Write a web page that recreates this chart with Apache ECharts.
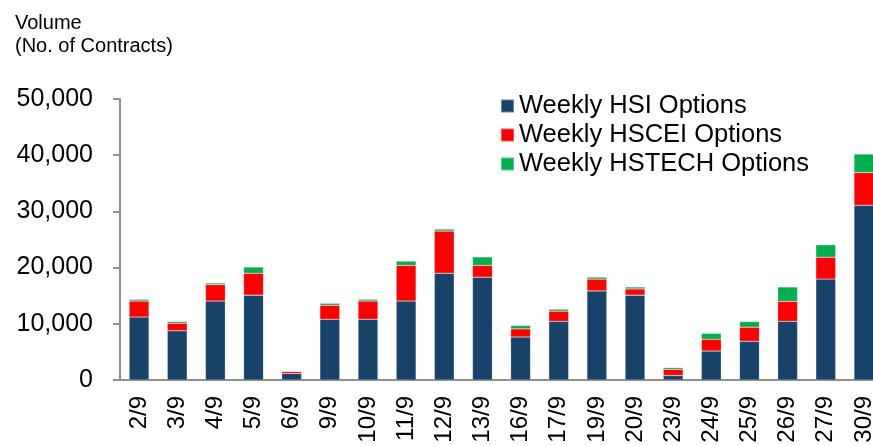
<!DOCTYPE html>
<html>
<head>
<meta charset="utf-8">
<script src="https://cdn.jsdelivr.net/npm/echarts@6/dist/echarts.min.js"></script>
<style>
html, body { margin: 0; padding: 0; overflow: hidden; background: #fff; }
#chart { width: 890px; height: 446px; }
</style>
</head>
<body>
<div id="chart"></div>
<script>
// 数据
const categories = ['2/9', '3/9', '4/9', '5/9', '6/9', '9/9', '10/9', '11/9', '12/9', '13/9',
    '16/9', '17/9', '19/9', '20/9', '23/9', '24/9', '25/9', '26/9', '27/9', '30/9'];
const hsiData = [11200, 8750, 14050, 15100, 1150, 10800, 10800, 14050, 19000, 18300,
    7650, 10450, 15850, 15100, 800, 5150, 6900, 10450, 17950, 31100];
const hsceiData = [2850, 1350, 2900, 3900, 350, 2500, 3250, 6350, 7500, 2100,
    1450, 1800, 2100, 1100, 1100, 2100, 2500, 3550, 3900, 5800];
const hstechData = [300, 300, 300, 1100, 100, 350, 300, 750, 350, 1500,
    600, 350, 350, 350, 300, 1050, 1000, 2550, 2200, 3300];
const seriesNames = ['Weekly HSI Options', 'Weekly HSCEI Options', 'Weekly HSTECH Options'];
const seriesColors = ['#17436b', '#ff0000', '#00b050'];

const fontFamily = "'Liberation Sans', Arial, sans-serif";
const axisGray = '#8f8f8f';

function makeSeries(i, data) {
    return {
        name: seriesNames[i],
        type: 'bar',
        stack: 'total',
        barWidth: '52%',
        data: data,
        itemStyle: {
            color: seriesColors[i],
            borderColor: 'rgba(255,255,255,0.35)',
            borderWidth: 0.5
        }
    };
}

const chart = echarts.init(document.getElementById('chart'));
chart.setOption({
    animation: false,
    title: {
        text: 'Volume\n(No. of Contracts)',
        left: 10,
        top: 7,
        textStyle: {
            fontFamily: fontFamily,
            fontSize: 20,
            fontWeight: 'normal',
            color: '#000',
            lineHeight: 23
        }
    },
    legend: {
        data: seriesNames,
        orient: 'vertical',
        left: 495,
        top: 88,
        icon: 'rect',
        itemWidth: 13,
        itemHeight: 13,
        itemGap: 3,
        textStyle: {
            fontFamily: fontFamily,
            fontSize: 25.5,
            color: '#000'
        }
    },
    grid: {
        left: 120,
        top: 99,
        right: 7,
        bottom: 66
    },
    xAxis: {
        type: 'category',
        data: categories,
        axisLine: { lineStyle: { color: axisGray, width: 2 } },
        axisTick: { length: 7, lineStyle: { color: axisGray, width: 2 } },
        axisLabel: {
            rotate: 90,
            margin: 16,
            fontFamily: fontFamily,
            fontSize: 24,
            color: '#000'
        }
    },
    yAxis: {
        type: 'value',
        min: 0,
        max: 50000,
        interval: 10000,
        splitLine: { show: false },
        axisLine: { show: true, lineStyle: { color: axisGray, width: 2 } },
        axisTick: { show: true, length: 7, lineStyle: { color: axisGray, width: 2 } },
        axisLabel: {
            margin: 27,
            fontFamily: fontFamily,
            fontSize: 25,
            color: '#000',
            formatter: function (v) { return v.toLocaleString('en-US'); }
        }
    },
    series: [
        makeSeries(0, hsiData),
        makeSeries(1, hsceiData),
        makeSeries(2, hstechData)
    ]
});
</script>
</body>
</html>
